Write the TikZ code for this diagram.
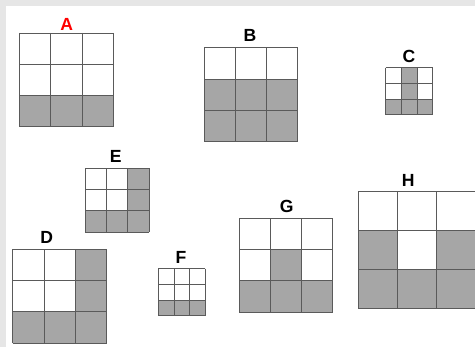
\documentclass[tikz,border=0pt]{standalone}
\usepackage{fontspec}
\setmainfont{Liberation Sans}
\usetikzlibrary{positioning}

\definecolor{bggray}{HTML}{E6E6E6}
\definecolor{cellgray}{HTML}{A6A6A6}
\definecolor{linegray}{HTML}{5A5A5A}

% 3x3 grid: left, top, cell size, gray cells (col/row)
\newcommand{\sqgrid}[4]{%
  \foreach \i/\j in {#4}
    \fill[cellgray] ({#1+\i*#3},{#2+\j*#3}) rectangle ++(#3,#3);
  \foreach \k in {0,...,3} {
    \draw[gridline] ({#1+\k*#3},#2) -- ++(0,{3*#3});
    \draw[gridline] (#1,{#2+\k*#3}) -- ++({3*#3},0);
  }
}

\begin{document}
\begin{tikzpicture}[x=0.03cm, y=-0.03cm,
  gridline/.style={draw=linegray, line width=0.8pt},
  lab/.style={font=\bfseries\fontsize{15}{18}\selectfont, inner sep=0pt}]
  \useasboundingbox (0,0) rectangle (475,347);
  \clip (0,0) rectangle (475,347);
  % background
  \fill[bggray] (0,0) rectangle (475,347);
  \fill[white] (6,6) rectangle (475,347);
  % grids
  \sqgrid{19.5}{33}{31.3}{0/2,1/2,2/2}
  \sqgrid{204}{47.7}{31.3}{0/1,1/1,2/1,0/2,1/2,2/2}
  \sqgrid{385.7}{67.7}{15.7}{1/0,1/1,0/2,1/2,2/2}
  \sqgrid{85.3}{168.3}{21.3}{2/0,2/1,0/2,1/2,2/2}
  \sqgrid{12.7}{249.3}{31.3}{2/0,2/1,0/2,1/2,2/2}
  \sqgrid{158.3}{268.7}{15.7}{0/2,1/2,2/2}
  \sqgrid{239}{218.3}{31.3}{1/1,0/2,1/2,2/2}
  \sqgrid{358.3}{191.7}{39}{0/1,2/1,0/2,1/2,2/2}
  % labels
  \node[lab, text=red] (labA) at (66.7,24) {A};
  \node[lab] (labB) at (250,35.7) {B};
  \node[lab] (labC) at (409,56.7) {C};
  \node[lab] (labE) at (115.7,156.7) {E};
  \node[lab] (labD) at (46.7,237.7) {D};
  \node[lab] (labF) at (181,257.7) {F};
  \node[lab] (labG) at (286.7,206.7) {G};
  \node[lab] (labH) at (408.3,180) {H};
\end{tikzpicture}
\end{document}
